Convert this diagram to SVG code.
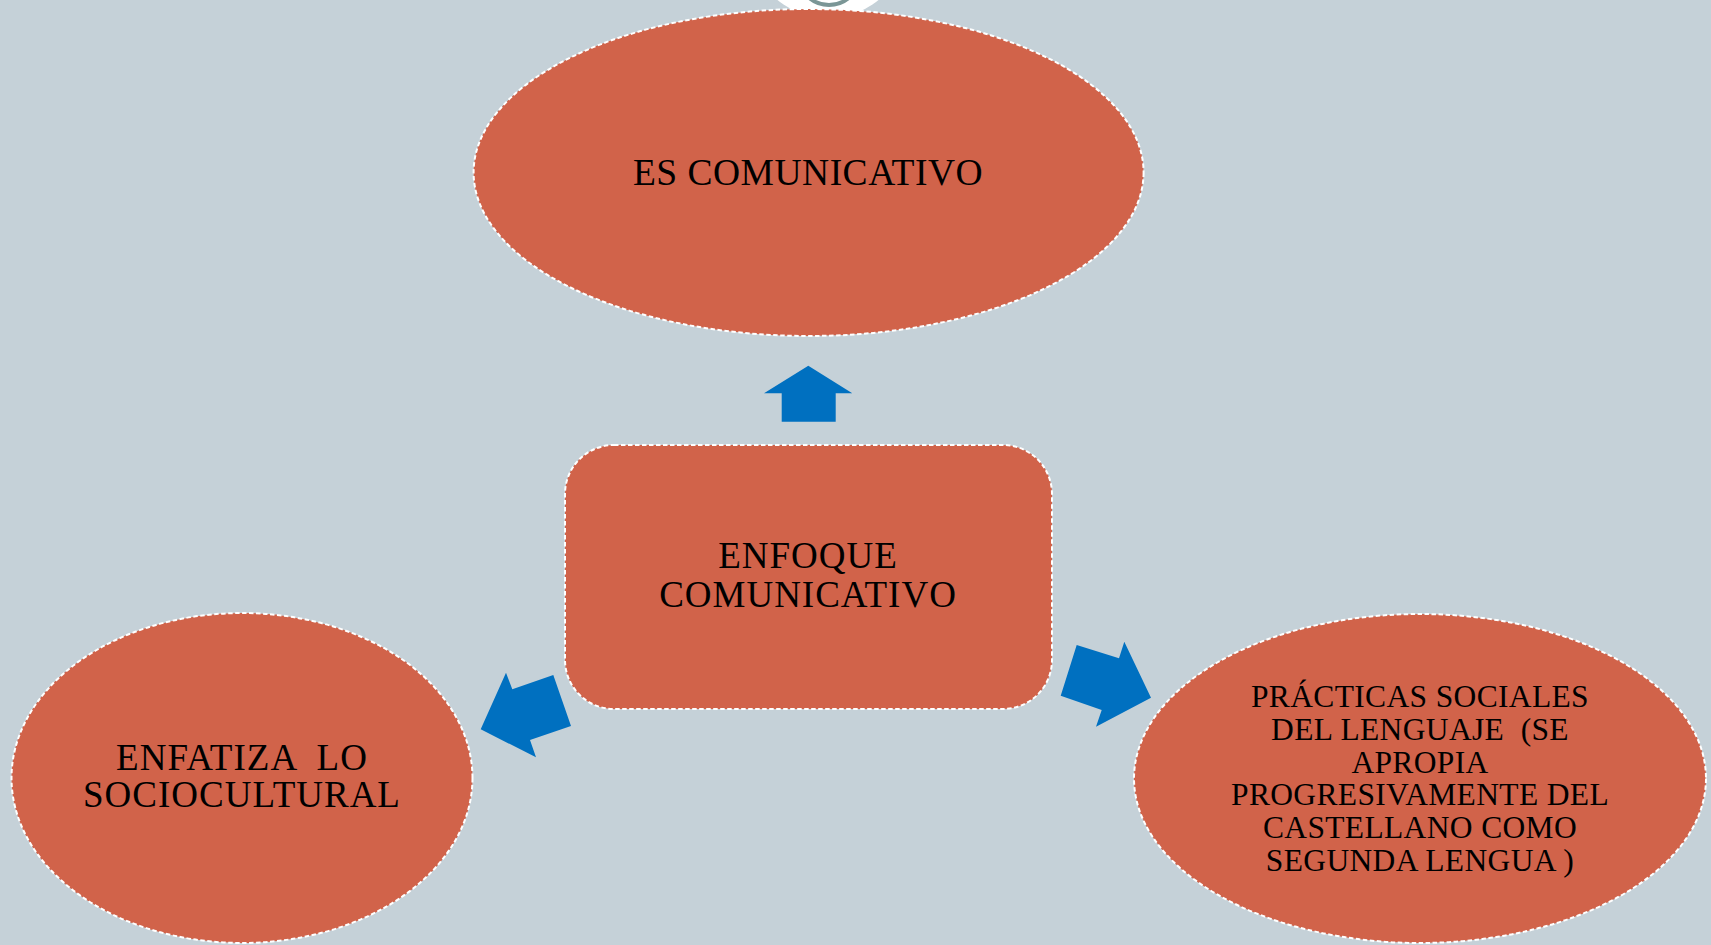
<svg xmlns="http://www.w3.org/2000/svg" width="1711" height="945" viewBox="0 0 1711 945">
<style>
.node{fill:#D1634A;stroke:#FFFFFF;stroke-width:2;stroke-dasharray:4.5 2.5;}
.arrow{fill:#0070C0;stroke:none;}
.t{font-family:"Liberation Serif","Times New Roman",serif;fill:#000;text-anchor:middle;}
</style>
<rect x="0" y="0" width="1711" height="945" fill="#C5D1D8"/>
<g id="top-icon">
<circle cx="828" cy="-62" r="80" fill="#FFFFFF"/>
<circle cx="829" cy="-26" r="31" fill="none" stroke="#7B9696" stroke-width="4"/>
</g>
<g id="connectors">
<polygon class="arrow" points="808.3,365.7 852.3,393.3 835.7,393.3 835.7,421.7 781.7,421.7 781.7,393.3 764,393.3"/>
<polygon class="arrow" points="480.7,729.3 506,672.7 512.3,689.3 553.3,675 571,726 530,740 536,757.3"/>
<polygon class="arrow" points="1151,697.7 1124.3,641.7 1119,658.3 1076.7,645 1060.7,695.7 1101.7,710 1096,726.7"/>
</g>
<g id="node-top">
<ellipse class="node" cx="808.6" cy="172.5" rx="335" ry="163.5"/>
<text class="t" x="808" y="185" font-size="37.5" letter-spacing="0.5">ES COMUNICATIVO</text>
</g>
<g id="node-center">
<rect class="node" x="565" y="445" width="487" height="264" rx="49" ry="49"/>
<text class="t" x="808" y="568" font-size="37" letter-spacing="1">ENFOQUE</text>
<text class="t" x="808" y="607" font-size="37" letter-spacing="1">COMUNICATIVO</text>
</g>
<g id="node-left">
<ellipse class="node" cx="242" cy="778" rx="230.5" ry="165"/>
<text class="t" x="242" y="770" font-size="37" letter-spacing="1" xml:space="preserve">ENFATIZA  LO</text>
<text class="t" x="242" y="807" font-size="37" letter-spacing="1">SOCIOCULTURAL</text>
</g>
<g id="node-right">
<ellipse class="node" cx="1420" cy="778.5" rx="286" ry="164.5"/>
<text class="t" font-size="31.5" letter-spacing="0.35" xml:space="preserve"><tspan x="1420" y="707">PRÁCTICAS SOCIALES</tspan><tspan x="1420" y="740">DEL LENGUAJE  (SE</tspan><tspan x="1420" y="772.7">APROPIA</tspan><tspan x="1420" y="805">PROGRESIVAMENTE DEL</tspan><tspan x="1420" y="837.7">CASTELLANO COMO</tspan><tspan x="1420" y="870.7">SEGUNDA LENGUA )</tspan></text>
</g>
</svg>
